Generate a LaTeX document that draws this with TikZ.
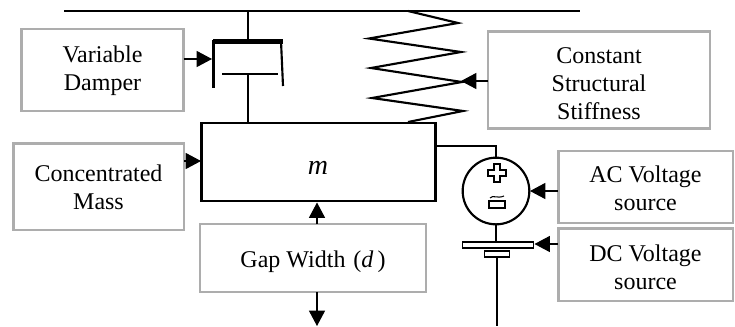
\documentclass[tikz,border=0pt]{standalone}
\usepackage{fontspec}
\setmainfont{Liberation Serif}
\usetikzlibrary{arrows.meta}
\newcommand{\droptext}[1]{\rule{0pt}{#1}}
\tikzset{
  labelbox/.style={draw=black!32,line width=2pt,outer sep=0pt,inner sep=0pt,align=center,
    font=\fontsize{18}{21}\selectfont},
  pointer/.style={line width=.9pt,-{Triangle[length=11.5pt,width=12pt]}},
  member/.style={line width=1.6pt},
}
\begin{document}
\begin{tikzpicture}[x=.75pt,y=-.75pt]
\useasboundingbox (0,0) rectangle (735,326);
% label boxes
\node[labelbox,minimum width=121.5pt,minimum height=61.5pt] (vardamp) at (102.5,70) {\droptext{14pt}Variable\\Damper};
\node[labelbox,minimum width=128pt,minimum height=65pt] (concmass) at (98.5,186.5) {\droptext{14pt}Concentrated\\Mass};
\node[labelbox,minimum width=166.5pt,minimum height=73pt] (stiffness) at (599,80) {\droptext{18pt}Constant\\Structural\\Stiffness};
\node[labelbox,minimum width=169.5pt,minimum height=51pt] (gapwidth) at (313,258) {\droptext{18pt}Gap Width\,\,(\textit{d}\,)};
\node[labelbox,minimum width=131pt,minimum height=54pt] (acsource) at (645.5,187) {\droptext{14pt}AC Voltage\\source};
\node[labelbox,minimum width=131pt,minimum height=54.5pt] (dcsource) at (645.5,264.5) {\droptext{17pt}DC Voltage\\source};
% mass
\node[draw,line width=1.6pt,outer sep=0pt,minimum width=175.5pt,minimum height=58pt] (mass) at (318.5,162) {};
\node[font=\fontsize{21}{24}\selectfont\itshape] (masslabel) at (318,167.5) {m};
% ceiling
\coordinate (roofL) at (64,11); \coordinate (roofR) at (580,11);
\draw[member] (roofL)--(roofR);
% damper
\coordinate (rodtop) at (248,11); \coordinate (cylinder) at (248,41.5); \coordinate (piston) at (248,74);
\draw[member] (rodtop)--(cylinder);
\draw[line width=3.6pt] (213,41.5)--(283,41.5);
\draw[member] (213.5,40)--(213.5,88); \draw[member] (281,41)--(283,86);
\draw[member] (222,74)--(278,74);
\draw[member] (piston)--(piston|-mass.north);
% spring
\draw[member] (408,11)--(458,23)--(369,38.5)--(461,52)--(371,68)--(462,82)--(372,98)--(463,111)--(408,122);
% ac source and plates
\node[draw,circle,line width=1.6pt,outer sep=0pt,inner sep=0pt,minimum size=50pt] (acdisc) at (496,191) {};
\coordinate (tap) at (496,146);
\draw[line width=.8pt] (mass.east|-tap)--(tap)--(acdisc.north);
\draw[line width=1.3pt,fill=white] (494,164)--(500,164)--(500,170)--(506,170)--(506,176)--(500,176)--(500,182)--(494,182)--(494,176)--(488,176)--(488,170)--(494,170)--cycle;
\node[draw,line width=1.3pt,outer sep=0pt,inner sep=0pt,minimum width=11.5pt,minimum height=5pt] (acmark) at (497,204.5) {};
\draw[line width=.8pt] (490,198) .. controls (493,194.5) and (497,199) .. (504,196);
\node[draw,line width=1.1pt,outer sep=0pt,inner sep=0pt,minimum width=53pt,minimum height=4.5pt] (plateup) at (498,245) {};
\node[draw,line width=1.1pt,outer sep=0pt,inner sep=0pt,minimum width=19pt,minimum height=4.5pt] (platelow) at (497,254) {};
\coordinate (floorend) at (497,326);
\draw[member] (acdisc.south)--(plateup.north-|acdisc.south);
\draw[member] (platelow.south)--(floorend);
% pointers
\coordinate (dampertip) at (212,59);
\coordinate (springtip) at (461,81);
\coordinate (masstip) at (201,161);
\coordinate (gaptipup) at (317,202.5);
\coordinate (gaptipdown) at (317,326);
\coordinate (actip) at (530,191);
\coordinate (dctip) at (534.5,244);
\draw[pointer] (vardamp.east|-dampertip)--(dampertip);
\draw[pointer] (stiffness.west|-springtip)--(springtip);
\draw[pointer] (concmass.east|-masstip)--(masstip);
\draw[pointer] (gapwidth.north-|gaptipup)--(gaptipup);
\draw[pointer] (gapwidth.south-|gaptipdown)--(gaptipdown);
\draw[pointer] (acsource.west|-actip)--(actip);
\draw[pointer] (dcsource.west|-dctip)--(dctip);
\end{tikzpicture}
\end{document}
